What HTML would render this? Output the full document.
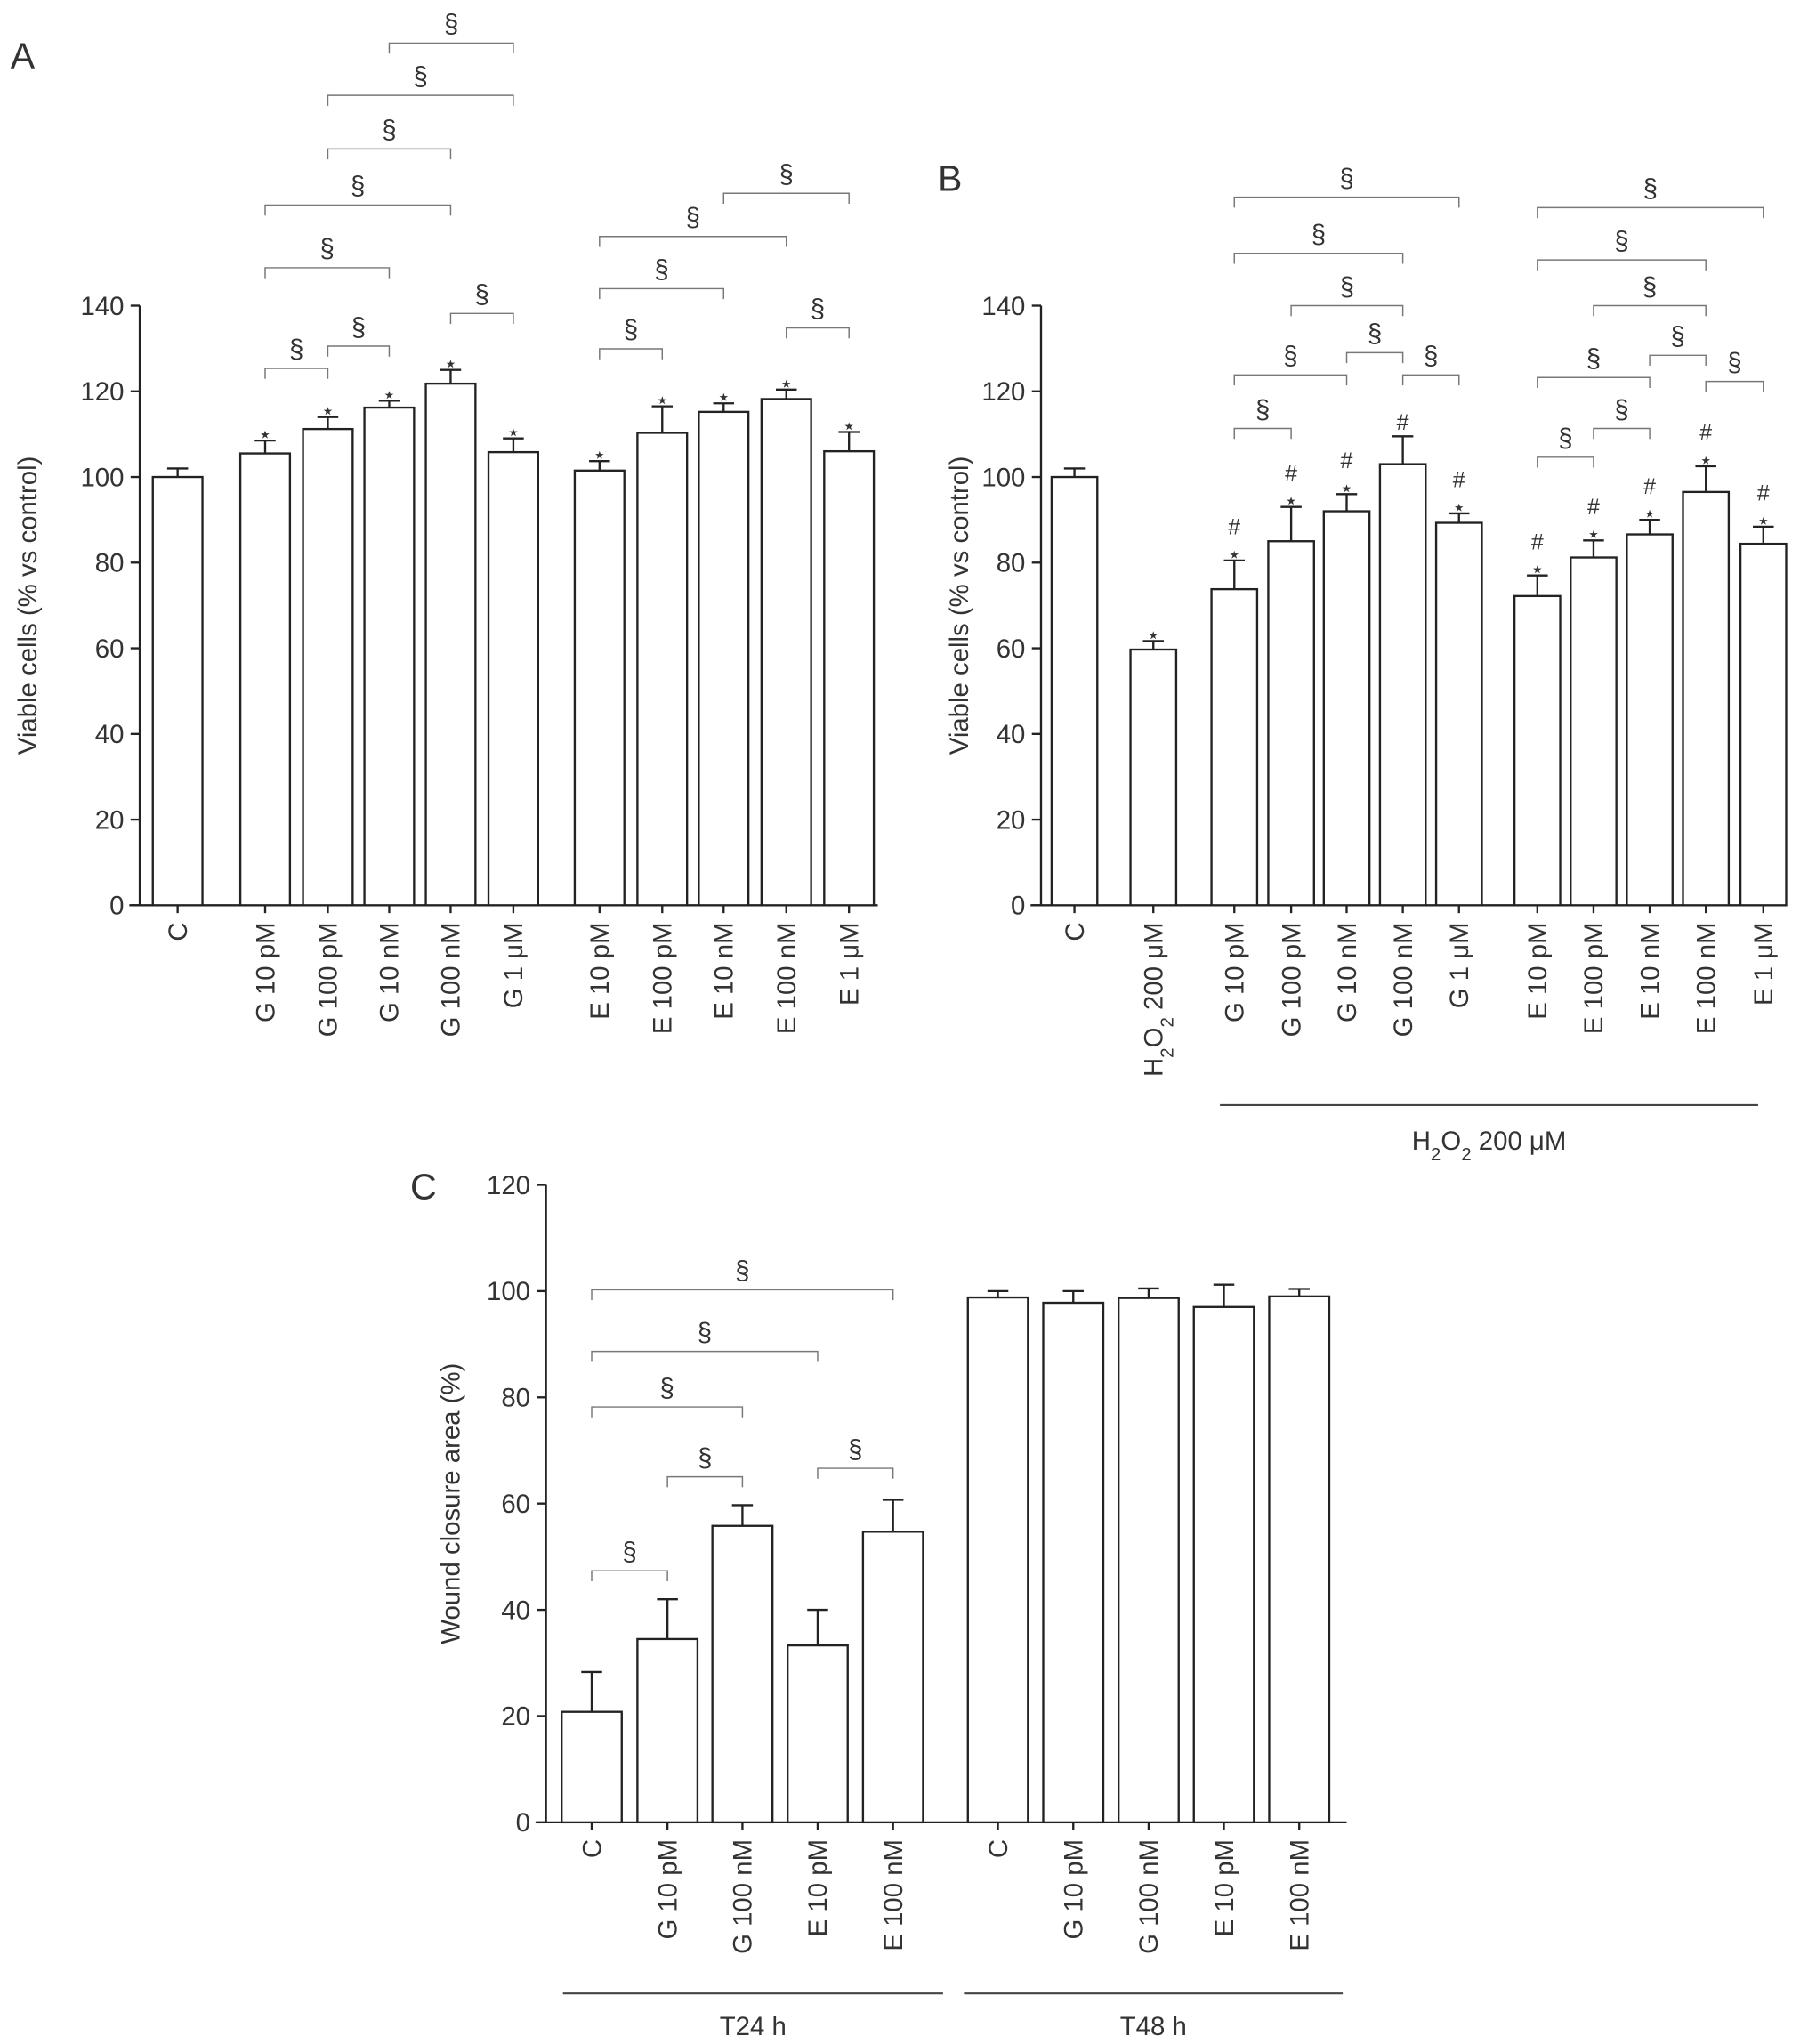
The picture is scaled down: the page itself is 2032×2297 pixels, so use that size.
<!DOCTYPE html>
<html><head><meta charset="utf-8"><style>
html,body{margin:0;padding:0;background:#fff}
svg{display:block}
text{font-family:"Liberation Sans",sans-serif;fill:#333}
</style></head><body>
<svg id="fig" width="2032" height="2297" viewBox="0 0 1384.2 1564.7" preserveAspectRatio="none" xmlns="http://www.w3.org/2000/svg"></svg>
<script>
// ---- Panel A data ----
const aCategories = ["C","G 10 pM","G 100 pM","G 10 nM","G 100 nM","G 1 \u03bcM","E 10 pM","E 100 pM","E 10 nM","E 100 nM","E 1 \u03bcM"];
const aValues = [100,105.5,111.2,116.2,121.8,105.8,101.5,110.3,115.2,118.2,106];
const aErrors = [2,3,2.8,1.6,3.2,3.2,2.2,6.2,2,2.2,4.5];
const aMarks = ["","*","*","*","*","*","*","*","*","*","*"];
const aBrackets = [[3,5,33],[2,5,73],[2,4,114],[1,4,157],[1,3,205],[1,2,282],[2,3,265],[4,5,240],[8,10,148],[6,9,181],[6,8,221],[6,7,267],[9,10,251]];
const aTicks = [0,20,40,60,80,100,120,140];
// ---- Panel B data ----
const bCategories = ["C","H2O2 200 \u03bcM","G 10 pM","G 100 pM","G 10 nM","G 100 nM","G 1 \u03bcM","E 10 pM","E 100 pM","E 10 nM","E 100 nM","E 1 \u03bcM"];
const bValues = [100,59.7,73.8,85,92,103,89.3,72.2,81.2,86.6,96.5,84.4];
const bErrors = [2,2,6.7,8,4,6.5,2.2,4.8,4,3.4,6,4];
const bMarks = ["","*","#*","#*","#*","#","#*","#*","#*","#*","#*","#*"];
const bBrackets = [[2,6,151],[2,5,194],[3,5,234],[4,5,270],[2,4,287],[5,6,287],[2,3,328],[7,11,159],[7,10,199],[8,10,234],[9,10,272],[7,9,289],[10,11,292],[8,9,328],[7,8,350]];
const bTicks = [0,20,40,60,80,100,120,140];
// ---- Panel C data ----
const cCategories = ["C","G 10 pM","G 100 nM","E 10 pM","E 100 nM","C","G 10 pM","G 100 nM","E 10 pM","E 100 nM"];
const cValues = [20.8,34.5,55.8,33.3,54.7,98.8,97.8,98.7,97,99];
const cErrors = [7.5,7.5,3.9,6.7,6,1.2,2.2,1.8,4.2,1.4];
const cBrackets = [[0,1,1202.5],[1,2,1130.5],[0,2,1077],[0,3,1034.5],[0,4,987.3],[3,4,1124]];
const cTicks = [0,20,40,60,80,100,120];

const NS="http://www.w3.org/2000/svg";
const svg=document.getElementById('fig');
function mk(tag,attrs,parent){const e=document.createElementNS(NS,tag);for(const k in attrs)e.setAttribute(k,attrs[k]);(parent||svg).appendChild(e);return e;}

function panel(cfg){
  const g=mk('g',{});
  
  
  const y=v=>cfg.y0-(v/cfg.ymax)*(cfg.y0-cfg.ytop);
  const x=i=>cfg.centers[i];
  const ya=mk('line',{x1:cfg.ax,y1:cfg.ytop,x2:cfg.ax,y2:cfg.y0,stroke:'#222','stroke-width':1.6},g);
  
  
  const xa=mk('line',{x1:cfg.ax-8,y1:cfg.y0,x2:cfg.xend,y2:cfg.y0,stroke:'#222','stroke-width':1.6},g);
  
  
  cfg.ticks.forEach(t=>{
    mk('line',{x1:cfg.ax-7,y1:y(t),x2:cfg.ax,y2:y(t),stroke:'#222','stroke-width':1.6},g);
    const tx=mk('text',{x:cfg.ax-12,y:y(t)+7,'text-anchor':'end','font-size':20},g);
    tx.textContent=t;
    
    
  });
  const yt=mk('text',{x:cfg.titleX,y:(cfg.y0+cfg.ytop)/2,'text-anchor':'middle','font-size':20,transform:`rotate(-90 ${cfg.titleX} ${(cfg.y0+cfg.ytop)/2})`},g);
  yt.textContent=cfg.title;
  
  
  cfg.values.forEach((v,i)=>{
    const cx=x(i),w=cfg.bw;
    const et=y(v+cfg.errors[i]);
    mk('line',{x1:cx,y1:y(v),x2:cx,y2:et,stroke:'#222','stroke-width':1.6},g);
    mk('line',{x1:cx-8,y1:et,x2:cx+8,y2:et,stroke:'#222','stroke-width':1.6},g);
    const r=mk('rect',{x:cx-w/2,y:y(v),width:w,height:cfg.y0-y(v),fill:'#fff',stroke:'#222','stroke-width':1.6},g);
    
    
    mk('line',{x1:cx,y1:cfg.y0,x2:cx,y2:cfg.y0+6,stroke:'#222','stroke-width':1.6},g);
    const lx=cx+7,ly=cfg.y0+13;
    const lab=mk('text',{x:lx,y:ly,'text-anchor':'end','font-size':20,transform:`rotate(-90 ${lx} ${ly})`},g);
    const c=cfg.cats[i];
    if(c.startsWith('H2O2')){
      lab.appendChild(document.createTextNode('H'));
      const s1=mk('tspan',{'baseline-shift':'sub','font-size':14},lab);s1.textContent='2';
      lab.appendChild(document.createTextNode('O'));
      const s2=mk('tspan',{'baseline-shift':'sub','font-size':14},lab);s2.textContent='2';
      lab.appendChild(document.createTextNode(' 200 \u03bcM'));
    } else lab.textContent=c;
    
    
    if(cfg.marks){
      const m=cfg.marks[i];let yy=et-5;
      if(m.includes('*')){const s=mk('text',{x:cx,y:yy+6,'text-anchor':'middle','font-size':17},g);s.textContent='\u22c6';yy-=15;}
      if(m.includes('#')){const s=mk('text',{x:cx,y:yy,'text-anchor':'middle','font-size':17},g);s.textContent='#';}
    }
  });
  cfg.brackets.forEach(b=>{
    const x1=x(b[0]),x2=x(b[1]),by=b[2];
    const p=mk('path',{d:`M${x1} ${by+8}V${by}H${x2}V${by+8}`,fill:'none',stroke:'#777','stroke-width':1},g);
    
    
    const s=mk('text',{x:(x1+x2)/2,y:by-8,'text-anchor':'middle','font-size':20,fill:'#555'},g);
    s.textContent='\u00a7';
    
    
  });
  const L=mk('text',{x:cfg.letter[0],y:cfg.letter[1],'font-size':28},g);
  L.textContent=cfg.letter[2];
  
  
  return g;
}

panel({name:'panel-a',cats:aCategories,values:aValues,errors:aErrors,marks:aMarks,brackets:aBrackets,ticks:aTicks,
  ax:107,y0:693,ytop:234,ymax:140,xend:672,bw:38,
  centers:[136,203,251,298,345,393,459,507,554,602,650],title:'Viable cells (% vs control)',titleX:28,letter:[8,52,'A']});
panel({name:'panel-b',cats:bCategories,values:bValues,errors:bErrors,marks:bMarks,brackets:bBrackets,ticks:bTicks,
  ax:797,y0:693,ytop:234,ymax:140,xend:1368,bw:35,
  centers:[822.6,883,945,988.5,1031,1074,1117,1177,1220,1263,1306,1350],title:'Viable cells (% vs control)',titleX:741,letter:[718,146,'B']});
panel({name:'panel-c',cats:cCategories,values:cValues,errors:cErrors,marks:null,brackets:cBrackets,ticks:cTicks,
  ax:418,y0:1395,ytop:907,ymax:120,xend:1031,bw:46,
  centers:[453,511,568.4,626,683.7,764,821.7,879.4,937,994.7],title:'Wound closure area (%)',titleX:352,letter:[314,918,'C']});

function under(x1,x2,yy,label,ty,name){
  const l=mk('line',{x1:x1,y1:yy,x2:x2,y2:yy,stroke:'#444','stroke-width':1.5});
  
  
  const t=mk('text',{x:(x1+x2)/2,y:ty,'text-anchor':'middle','font-size':20});
  if(label==='H2O2'){
    t.appendChild(document.createTextNode('H'));
    const s1=mk('tspan',{'baseline-shift':'sub','font-size':14},t);s1.textContent='2';
    t.appendChild(document.createTextNode('O'));
    const s2=mk('tspan',{'baseline-shift':'sub','font-size':14},t);s2.textContent='2';
    t.appendChild(document.createTextNode(' 200 \u03bcM'));
  } else t.textContent=label;
  
  
}
under(934,1346,846,'H2O2',880,'h2o2-group');
under(431,722,1526,'T24 h',1558,'t24-group');
under(738,1028,1526,'T48 h',1558,'t48-group');
</script>
</body></html>
